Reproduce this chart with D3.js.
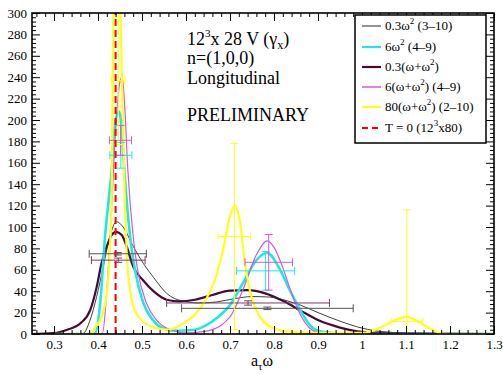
<!DOCTYPE html>
<html><head><meta charset="utf-8">
<script src="https://cdnjs.cloudflare.com/ajax/libs/d3/7.8.5/d3.min.js"></script>
<style>body{margin:0;background:#fff}svg{display:block;font-family:"Liberation Serif","Times New Roman",serif}text{font-family:"Liberation Serif","Times New Roman",serif}</style>
</head><body><svg id="c" width="503" height="374"></svg>
<script>
// ---- data ----
const xTicks = [0.3,0.4,0.5,0.6,0.7,0.8,0.9,1.0,1.1,1.2,1.3];
const xTickLabels = ["0.3","0.4","0.5","0.6","0.7","0.8","0.9","1","1.1","1.2","1.3"];
const yTicks = [0,20,40,60,80,100,120,140,160,180,200,220,240,260,280,300];

const curveBlack = [[0.30,0],[0.35,0],[0.366,0.5],[0.382,13],[0.397,35],[0.412,63],[0.427,91],[0.442,105],[0.457,100],[0.48,82],[0.503,66],[0.526,53],[0.556,38],[0.59,31],[0.63,29],[0.67,30],[0.71,33],[0.75,35],[0.79,34.5],[0.83,31],[0.86,27],[0.90,20],[0.95,12],[1.0,5.5],[1.05,2],[1.1,0.8],[1.2,0.2],[1.3,0]];
const curveCyan = [[0.30,0],[0.38,0],[0.393,0.5],[0.405,29],[0.416,91],[0.431,153],[0.44,200],[0.448,208],[0.455,185],[0.46,153],[0.473,91],[0.484,60],[0.503,29],[0.525,13],[0.55,5],[0.58,3],[0.62,4],[0.645,8],[0.67,15],[0.70,27],[0.73,48],[0.76,69],[0.784,76],[0.81,63],[0.836,41],[0.86,22],[0.882,8],[0.90,3],[0.95,0.5],[1.0,0],[1.3,0]];
const curveMaroon = [[0.25,0],[0.30,0.8],[0.33,4],[0.36,10],[0.382,22],[0.397,44],[0.408,66],[0.42,82],[0.431,92.5],[0.441,95.5],[0.454,92.5],[0.465,82],[0.48,63],[0.503,50],[0.526,40],[0.556,32],[0.585,30.5],[0.62,32],[0.66,36.5],[0.70,40.5],[0.74,41],[0.78,38],[0.82,31],[0.86,22],[0.90,13],[0.95,6],[1.0,2],[1.05,1],[1.1,0.5],[1.3,0]];
const curveMagenta = [[0.30,0],[0.40,0],[0.41,0.5],[0.42,40],[0.43,110],[0.44,190],[0.45,236],[0.455,240],[0.46,218],[0.468,152],[0.48,91],[0.49,60],[0.51,29],[0.533,13],[0.564,4],[0.60,1],[0.65,3],[0.70,16],[0.73,42],[0.76,74],[0.785,87],[0.80,81],[0.82,62],[0.84,38],[0.86,18],[0.88,6],[0.90,1.5],[0.95,0],[1.3,0]];
const curveYellow = [[0.30,0],[0.375,0],[0.386,0.5],[0.393,6],[0.408,16],[0.42,38],[0.427,78],[0.431,125],[0.435,300],[0.443,420],[0.451,300],[0.461,125],[0.465,78],[0.473,41],[0.484,22],[0.503,11.5],[0.533,5.6],[0.56,4],[0.59,9],[0.62,18],[0.645,32],[0.665,50],[0.685,80],[0.70,110],[0.711,120],[0.723,104],[0.734,66],[0.745,41],[0.768,16],[0.79,7],[0.82,3],[0.90,1],[1.0,1],[1.04,5.5],[1.07,12],[1.10,16],[1.13,11],[1.16,4],[1.18,0.5],[1.2,0],[1.3,0]];

// error-bar points: [x, y, xerr, yerr]
const errBlack   = [[0.445,75,0.065,1.2],[0.785,24,0.195,1.2]];
const errMaroon  = [[0.446,69,0.061,2],[0.741,29,0.185,2]];
const errCyan    = [[0.452,167,0.025,12],[0.781,59,0.066,18]];
const errMagenta = [[0.451,181,0.025,14],[0.788,67,0.054,26]];
const errYellow  = [[0.446,237,0.015,60],[0.710,91,0.037,87],[1.102,11.5,0.036,104.5]];
const t0Line = 0.44;

const legendLabels = ["0.3ω² (3–10)","6ω² (4–9)","0.3(ω+ω²)","6(ω+ω²) (4–9)","80(ω+ω²) (2–10)","T = 0 (12³x80)"];

// ---- layout ----
const L=32,R=494,T=13,B=334;
const svg=d3.select("#c");
const x=d3.scaleLinear().domain([0.25,1.3]).range([L,R]);
const y=d3.scaleLinear().domain([0,300]).range([B,T]);

svg.append("defs").append("clipPath").attr("id","clip").append("rect").attr("x",L).attr("y",T).attr("width",R-L).attr("height",B-T);
const plot=svg.append("g").attr("clip-path","url(#clip)");

const colors={black:"#2a2a2a",cyan:"#22e6e6",maroon:"#4a0834",magenta:"#d45ad4",yellow:"#ffff1a",red:"#ff0000"};
const line=d3.line().x(d=>x(d[0])).y(d=>y(d[1])).curve(d3.curveMonotoneX);

function curve(data,c,w){plot.append("path").datum(data).attr("d",line).attr("fill","none").attr("stroke",c).attr("stroke-width",w).attr("stroke-linejoin","round");}
function errs(data,c,w){
  data.forEach(([cx,cy,xe,ye])=>{
    const g=plot.append("g").attr("stroke",c).attr("stroke-width",w).attr("fill","none");
    const cap=4;
    g.append("line").attr("x1",x(cx-xe)).attr("x2",x(cx+xe)).attr("y1",y(cy)).attr("y2",y(cy));
    g.append("line").attr("x1",x(cx-xe)).attr("x2",x(cx-xe)).attr("y1",y(cy)-cap).attr("y2",y(cy)+cap);
    g.append("line").attr("x1",x(cx+xe)).attr("x2",x(cx+xe)).attr("y1",y(cy)-cap).attr("y2",y(cy)+cap);
    g.append("line").attr("x1",x(cx)).attr("x2",x(cx)).attr("y1",y(cy-ye)).attr("y2",y(cy+ye));
    g.append("line").attr("x1",x(cx)-cap).attr("x2",x(cx)+cap).attr("y1",y(cy-ye)).attr("y2",y(cy-ye));
    g.append("line").attr("x1",x(cx)-cap).attr("x2",x(cx)+cap).attr("y1",y(cy+ye)).attr("y2",y(cy+ye));
  });
}

curve(curveMaroon,colors.maroon,2.2);
curve(curveBlack,colors.black,0.9);
curve(curveCyan,colors.cyan,2.6);
curve(curveMagenta,colors.magenta,1.2);
curve(curveYellow,colors.yellow,2.2);
errs(errBlack,"#555",1);
errs(errMaroon,"#7a3a66",1);
errs(errCyan,colors.cyan,1);
errs(errMagenta,colors.magenta,1);
errs(errYellow,colors.yellow,1);
plot.append("line").attr("x1",x(t0Line)).attr("x2",x(t0Line)).attr("y1",y(0)).attr("y2",y(300))
  .attr("stroke",colors.red).attr("stroke-width",2).attr("stroke-dasharray","7,4");

// ---- axes ----
const xMinor=d3.range(0.26,1.3,0.02).filter(v=>Math.abs(v*10-Math.round(v*10))>1e-6);
const yMinor=d3.range(0,300,4).filter(v=>v%20!==0);
function addAxis(gen,tr,labels){
  const g=svg.append("g").attr("transform",tr).call(gen).attr("font-family",null);
  g.select(".domain").remove();
  g.selectAll("line").attr("stroke","#000").attr("stroke-width",1);
  g.selectAll("text").attr("font-size",13).attr("fill","#000");
  if(!labels) g.selectAll("text").remove();
  return g;
}
addAxis(d3.axisBottom(x).tickValues(xTicks).tickSizeInner(-8).tickSizeOuter(0).tickPadding(6).tickFormat((d,i)=>xTickLabels[i]),`translate(0,${B})`,true);
addAxis(d3.axisBottom(x).tickValues(xMinor).tickSizeInner(-4).tickSizeOuter(0).tickFormat(""),`translate(0,${B})`,false);
addAxis(d3.axisTop(x).tickValues(xTicks).tickSizeInner(-8).tickSizeOuter(0).tickFormat(""),`translate(0,${T})`,false);
addAxis(d3.axisTop(x).tickValues(xMinor).tickSizeInner(-4).tickSizeOuter(0).tickFormat(""),`translate(0,${T})`,false);
addAxis(d3.axisLeft(y).tickValues(yTicks).tickSizeInner(-8).tickSizeOuter(0).tickPadding(5),`translate(${L},0)`,true);
addAxis(d3.axisLeft(y).tickValues(yMinor).tickSizeInner(-4).tickSizeOuter(0).tickFormat(""),`translate(${L},0)`,false);
addAxis(d3.axisRight(y).tickValues(yTicks).tickSizeInner(-8).tickSizeOuter(0).tickFormat(""),`translate(${R},0)`,false);
addAxis(d3.axisRight(y).tickValues(yMinor).tickSizeInner(-4).tickSizeOuter(0).tickFormat(""),`translate(${R},0)`,false);
svg.append("rect").attr("x",L).attr("y",T).attr("width",R-L).attr("height",B-T).attr("fill","none").attr("stroke","#000").attr("stroke-width",1.6);

// ---- annotation ----
const ann=svg.append("g").attr("font-size",18).attr("fill","#000");
const t1=ann.append("text").attr("x",187).attr("y",45);
t1.append("tspan").text("12");
t1.append("tspan").attr("dy",-8).attr("font-size",11).text("3");
t1.append("tspan").attr("dy",8).text("x 28 V (γ");
t1.append("tspan").attr("dy",4).attr("font-size",12).text("x");
t1.append("tspan").attr("dy",-4).text(")");
ann.append("text").attr("x",187).attr("y",64).text("n=(1,0,0)");
ann.append("text").attr("x",187).attr("y",84).text("Longitudinal");
ann.append("text").attr("x",187).attr("y",121).text("PRELIMINARY");

// x label
const xl=svg.append("text").attr("x",251).attr("y",366).attr("font-size",16).attr("fill","#000");
xl.append("tspan").text("a");
xl.append("tspan").attr("dy",4).attr("font-size",11).text("τ");
xl.append("tspan").attr("dy",-4).text("ω");

// ---- legend ----
const lg=svg.append("g");
lg.append("rect").attr("x",355).attr("y",15).attr("width",131).attr("height",128).attr("fill","#fff").attr("stroke","#000").attr("stroke-width",1.5);
const legColors=[colors.black,colors.cyan,colors.maroon,colors.magenta,colors.yellow,colors.red];
const legWidths=[1,2.2,2.2,1.5,2.2,2];
const legY=[26,47,67,87,107,128];
legendLabels.forEach((lab,i)=>{
  lg.append("line").attr("x1",362).attr("x2",381).attr("y1",legY[i]).attr("y2",legY[i]).attr("stroke",legColors[i]).attr("stroke-width",legWidths[i])
    .attr("stroke-dasharray",i===5?"6,4":null);
  const t=lg.append("text").attr("x",385).attr("y",legY[i]+4).attr("font-size",13).attr("fill","#000");
  const parts=lab.split(/([²³])/).filter(p=>p!=="");
  let pendingDown=false;
  parts.forEach(p=>{
    if(p==="²"||p==="³"){
      t.append("tspan").attr("dy",-6).attr("font-size",9).text(p==="²"?"2":"3");
      pendingDown=true;
    } else {
      const ts=t.append("tspan").text(p);
      if(pendingDown){ts.attr("dy",6);pendingDown=false;}
    }
  });
});
</script></body></html>
